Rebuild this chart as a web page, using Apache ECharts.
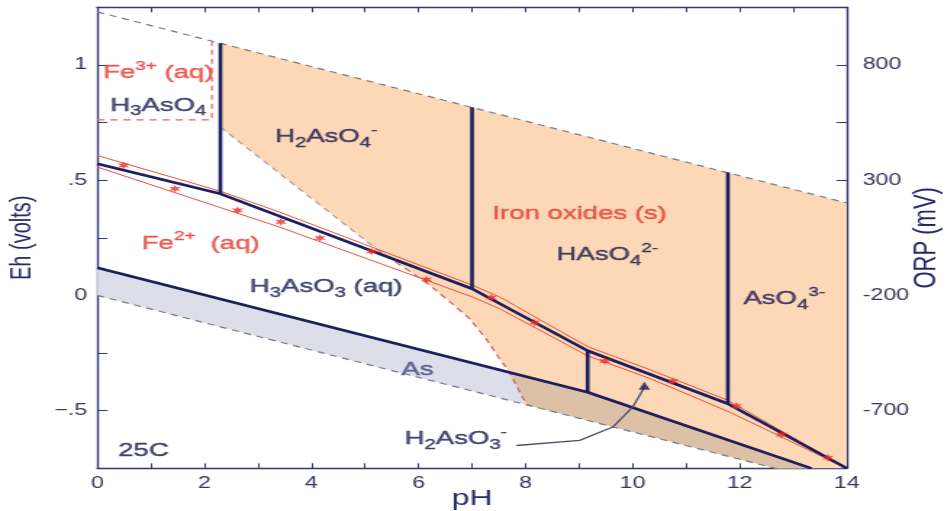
<!DOCTYPE html>
<html>
<head>
<meta charset="utf-8">
<script src="https://cdn.jsdelivr.net/npm/echarts@6/dist/echarts.min.js"></script>
<style>
html,body{margin:0;padding:0;background:#fff;overflow:hidden;width:946px;height:511px;}
#c{height:511px;transform:scaleX(1.45);transform-origin:0 0;}
</style>
</head>
<body>
<div id="c"></div>
<script>
// ---- axis tick labels ----
const xTickLabels = ['0','2','4','6','8','10','12','14'];
const ehTickValues = [1, 0.5, 0, -0.5];
const ehTickLabels = ['1', '.5', '0', '\u2212.5'];
const orpTickLabels = ['800', '300', '-200', '-700'];

// ---- boundary lines (pH, Eh) ----
const waterUpper = [[0, 1.23], [14, 0.401]];
const waterLower = [[0, 0], [14, -0.829]];
const asOxLine = [[0, 0.571], [2.3, 0.441], [7.0, 0.029], [9.16, -0.24], [11.78, -0.47], [14, -0.75]];
const asMetalLine = [[0, 0.12], [9.16, -0.42], [13.34, -0.75]];
const vLine1 = [[2.3, 1.094], [2.3, 0.441]];
const vLine2 = [[7.0, 0.816], [7.0, 0.029]];
const vLine3 = [[11.78, 0.533], [11.78, -0.47]];
const vLine4 = [[9.16, -0.24], [9.16, -0.42]];
const fe3Box = [[0, 0.762], [2.14, 0.762], [2.14, 1.103]];
const feBoundaryUpper = [[2.3, 0.73], [5.22, 0.20]];
const feBoundaryLower = [[5.22, 0.20], [6.15, 0.055], [6.6, -0.03], [6.95, -0.1], [7.27, -0.19], [7.5, -0.27], [7.7, -0.334], [7.85, -0.40], [7.95, -0.445], [8.05, -0.477]];
const redUpper = [[0, 0.607], [2.3, 0.452], [3.41, 0.361], [7.0, 0.045], [7.52, -0.007], [9.16, -0.222], [10.32, -0.322], [11.78, -0.455], [14, -0.75]];
const redLower = [[0, 0.557], [3.41, 0.296], [7.0, -0.006], [7.52, -0.058], [9.16, -0.262], [10.32, -0.36], [11.81, -0.506], [14, -0.75]];
const measuredPts = [[0.49, 0.564], [1.45, 0.463], [2.62, 0.369], [3.43, 0.319], [4.16, 0.249], [5.12, 0.191], [6.15, 0.069], [7.36, -0.009], [8.17, -0.118], [9.48, -0.285], [10.75, -0.372], [11.94, -0.48], [12.78, -0.604], [13.65, -0.704]];
const arrowCurve = [[7.83, -0.651], [9.01, -0.629], [9.63, -0.571], [10.0, -0.485], [10.19, -0.41], [10.21, -0.395]];
const arrowTip = [[10.22, -0.392]];

// ---- filled fields ----
const asFieldPoly = [[0, 0.12], [9.16, -0.42], [13.34, -0.75], [12.67, -0.75], [0, 0]];
const ironOxidePoly = [[2.3, 1.094], [14, 0.401], [14, -0.75], [12.67, -0.75], [8.05, -0.477], [7.95, -0.445], [7.85, -0.40], [7.7, -0.334], [7.5, -0.27], [7.27, -0.19], [6.95, -0.1], [6.6, -0.03], [6.15, 0.055], [5.22, 0.20], [2.3, 0.73]];
const overlapPoly = [[7.7, -0.334], [9.16, -0.42], [13.34, -0.75], [12.67, -0.75], [8.05, -0.477], [7.95, -0.445], [7.85, -0.40]];

// ---- field labels (left edge, vertical centre) ----
const labelPos = [[0.11, 0.967], [0.24, 0.824], [3.32, 0.687], [7.38, 0.354], [8.58, 0.176], [0.83, 0.226], [2.85, 0.037], [12.07, -0.014], [5.68, -0.321], [5.74, -0.622], [0.39, -0.675]];
const labelText = [
  '{r|Fe}{rp|3+}{r| (aq)}',
  '{n|H}{ns|3}{n|AsO}{ns|4}',
  '{n|H}{ns|2}{n|AsO}{ns|4}{np|-}',
  '{r|Iron oxides (s)}',
  '{n|HAsO}{ns|4}{np|2-}',
  '{r|Fe}{rp|2+}{r|  (aq)}',
  '{n|H}{ns|3}{n|AsO}{ns|3}{n| (aq)}',
  '{n|AsO}{ns|4}{np|3-}',
  '{g|As}',
  '{n|H}{ns|2}{n|AsO}{ns|3}{np|-}',
  '{n|25C}'
];

const SX = 1.45;
const W = 946 / SX;
const dom = document.getElementById('c');
dom.style.width = W + 'px';
const chart = echarts.init(dom, null, {width: W, height: 511});

const FONT = 'Liberation Sans, Arial, Helvetica, sans-serif';
const navy = '#1c1e5c';
const textNavy = '#17194f';
const axisColor = '#34366f';
const labelColor = '#35365a';
const red = '#e8382e';

function poly(pts, color, z) {
  return {
    type: 'custom', silent: true, z: z, animation: false,
    data: [pts[0]],
    renderItem: function (params, api) {
      return {type: 'polygon', shape: {points: pts.map(function (p) { return api.coord(p); })}, style: {fill: color}};
    }
  };
}
function line(pts, color, width, type, z) {
  return {
    type: 'line', data: pts, symbol: 'none', silent: true, animation: false, z: z,
    lineStyle: {color: color, width: width, type: type}
  };
}
function starPath(n, r1, r2) {
  let d = '';
  for (let i = 0; i < 2 * n; i++) {
    const a = Math.PI * i / n - Math.PI / 2;
    const r = i % 2 ? r2 : r1;
    d += (i ? 'L' : 'M') + (r * Math.cos(a)).toFixed(2) + ',' + (r * Math.sin(a)).toFixed(2);
  }
  return 'path://' + d + 'Z';
}
function ehIdx(v) { return ehTickValues.findIndex(function (t) { return Math.abs(t - v) < 1e-9; }); }

const dash = [5, 4];
const txt = function (size, color, extra) {
  return Object.assign({fontSize: size, color: color, fontFamily: FONT, textBorderColor: color, textBorderWidth: 0.4}, extra || {});
};
const option = {
  animation: false,
  textStyle: {fontFamily: FONT},
  grid: {left: 97.3 / SX, right: W - 846.7 / SX, top: 7.3, bottom: 42.7, containLabel: false, outerBoundsMode: 'none'},
  xAxis: [{
    type: 'value', min: 0, max: 14, interval: 1, position: 'bottom',
    axisLine: {onZero: false, lineStyle: {color: axisColor, width: 1.4}},
    axisTick: {inside: true, length: 5, lineStyle: {color: axisColor, width: 1}},
    axisLabel: {color: labelColor, fontSize: 16, margin: 7, fontFamily: FONT,
      formatter: function (v) { return (Math.round(v) % 2 === 0) ? xTickLabels[Math.round(v) / 2] : ''; }},
    splitLine: {show: false},
    name: 'pH', nameLocation: 'middle', nameGap: 20, nameMoveOverlap: false,
    nameTextStyle: {color: '#262867', fontSize: 22, fontFamily: FONT}
  }, {
    type: 'value', min: 0, max: 14, interval: 1, position: 'top',
    axisLine: {onZero: false, lineStyle: {color: axisColor, width: 1.4}},
    axisTick: {inside: true, length: 5, lineStyle: {color: axisColor, width: 1}},
    axisLabel: {show: false}, splitLine: {show: false}
  }],
  yAxis: [{
    type: 'value', min: -0.75, max: 1.25, interval: 0.25, position: 'left',
    axisLine: {onZero: false, lineStyle: {color: axisColor, width: 1.4}},
    axisTick: {inside: true, length: 7, lineStyle: {color: axisColor, width: 1}},
    axisLabel: {color: labelColor, fontSize: 16, margin: 7, fontFamily: FONT,
      formatter: function (v) { const i = ehIdx(v); return i >= 0 ? ehTickLabels[i] : ''; }},
    splitLine: {show: false},
    name: 'Eh (volts)', nameLocation: 'middle', nameRotate: 90, nameGap: 42, nameMoveOverlap: false,
    nameTextStyle: {color: '#262867', fontSize: 20, fontFamily: FONT}
  }, {
    type: 'value', min: -0.75, max: 1.25, interval: 0.25, position: 'right',
    axisLine: {onZero: false, lineStyle: {color: axisColor, width: 1.4}},
    axisTick: {inside: true, length: 7, lineStyle: {color: axisColor, width: 1}},
    axisLabel: {color: labelColor, fontSize: 16, margin: 11, fontFamily: FONT,
      formatter: function (v) { const i = ehIdx(v); return i >= 0 ? orpTickLabels[i] : ''; }},
    splitLine: {show: false},
    name: 'ORP (mV)', nameLocation: 'middle', nameRotate: 90, nameGap: 44, nameMoveOverlap: false,
    nameTextStyle: {color: '#262867', fontSize: 22, fontFamily: FONT}
  }],
  series: [
    poly(asFieldPoly, '#dedeea', 1),
    poly(ironOxidePoly, '#fcd8b6', 2),
    poly(overlapPoly, '#dcc1a7', 3),
    line(waterUpper, '#7b7b88', 1.2, dash, 5),
    line(waterLower, '#7b7b88', 1.2, dash, 5),
    line(fe3Box, '#e06464', 1.2, dash, 5),
    line(feBoundaryUpper, '#a89aa0', 1.2, dash, 5),
    line(feBoundaryLower, '#c46262', 1.2, dash, 5),
    line(redUpper, '#e6503c', 1, 'solid', 6),
    line(redLower, '#e6503c', 1, 'solid', 6),
    line(asOxLine, navy, 2.6, 'solid', 7),
    line(asMetalLine, navy, 2.6, 'solid', 7),
    line(vLine1, navy, 2.6, 'solid', 7),
    line(vLine2, navy, 2.6, 'solid', 7),
    line(vLine3, navy, 2.6, 'solid', 7),
    line(vLine4, navy, 2.6, 'solid', 7),
    {
      type: 'scatter', data: measuredPts, symbol: starPath(6, 10, 4.5), symbolSize: 8,
      itemStyle: {color: '#ee2b25'}, silent: true, z: 8, animation: false
    },
    line(arrowCurve, '#4a4c75', 1.3, 'solid', 8),
    {
      type: 'scatter', data: arrowTip, symbol: 'triangle', symbolSize: [8, 8],
      itemStyle: {color: navy}, silent: true, z: 8, animation: false
    },
    {
      type: 'scatter', symbolSize: 0, silent: true, z: 10, animation: false,
      data: labelPos.map(function (p, i) { return {value: p, label: {formatter: labelText[i]}}; }),
      label: {
        show: true, position: 'right', distance: 0,
        rich: {
          n: txt(19, textNavy, {lineHeight: 26}),
          ns: txt(14, textNavy, {lineHeight: 14, verticalAlign: 'bottom'}),
          np: txt(13, textNavy, {lineHeight: 16, verticalAlign: 'top'}),
          r: txt(19, red, {lineHeight: 26}),
          rp: txt(13, red, {lineHeight: 16, verticalAlign: 'top'}),
          g: txt(19, '#45477a', {lineHeight: 26})
        }
      }
    }
  ]
};
chart.setOption(option);
</script>
</body>
</html>
